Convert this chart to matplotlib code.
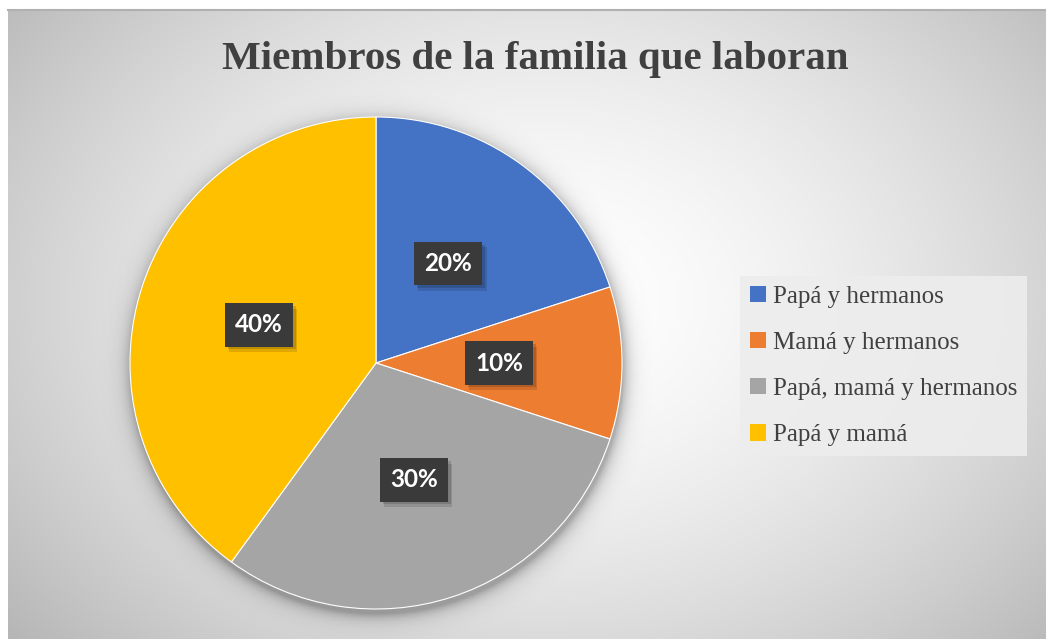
import numpy as np
import matplotlib.pyplot as plt
import matplotlib.patheffects as pe
from matplotlib.patches import Patch

labels = ['Papá y hermanos', 'Mamá y hermanos', 'Papá, mamá y hermanos', 'Papá y mamá']
values = [20, 10, 30, 40]
colors = ['#4472c4', '#ed7d31', '#a5a5a5', '#ffc000']
title = 'Miembros de la familia que laboran'

W, H = 1046, 639
fig = plt.figure(figsize=(W / 100, H / 100), dpi=100)
fig.patch.set_facecolor('white')

# background: radial gradient, white in the middle, grey at the borders
bg = fig.add_axes([8 / W, 0, 1 - 8 / W, 1 - 10 / H])
bg.set_axis_off()
yy, xx = np.mgrid[10:639:4, 8:1046:4]
d = np.hypot((xx - 545) / 560.0, (yy - 300) / 420.0)
v = 1.0 - 0.2 * np.clip(d, 0, 1.3) ** 1.6
bg.imshow(np.dstack([v, v, v]), aspect='auto', extent=[0, 1, 0, 1], interpolation='bilinear')
bg.set_xlim(0, 1)
bg.set_ylim(0, 1)
# thin top border line
fig.add_artist(plt.Line2D([8 / W, 1], [1 - 10 / H, 1 - 10 / H], color='#b0b0b0', lw=1.5))

# pie: centre (376, 363) px, radius 246 px
cx, cy, R = 376, 363, 246
lim = 1.12
side = 2 * lim * R
ax = fig.add_axes([(cx - lim * R) / W, (H - cy - lim * R) / H, side / W, side / H])
ax.set_axis_off()
ax.set_xlim(-lim, lim)
ax.set_ylim(-lim, lim)

# soft shadow under the pie
gy, gx = np.mgrid[-lim:lim:400j, -lim:lim:400j]
r = np.hypot(gx - 0.005, gy + 0.02)
alpha = np.where(r < 1, 0.3, 0.3 * np.exp(-(r - 1) / 0.03))
shadow = np.zeros((400, 400, 4))
shadow[..., 3] = alpha
ax.imshow(shadow, extent=[-lim, lim, -lim, lim], origin='lower', zorder=0)

fs = 17.5
wedges, texts, autotexts = ax.pie(
    values, colors=colors, startangle=90, counterclock=False, radius=1,
    autopct='%1.0f%%', pctdistance=0.5,
    wedgeprops=dict(edgecolor='white', linewidth=0.8),
    textprops=dict(color='white', fontsize=fs, fontweight='bold', family='Lato'))
for w in wedges:
    w.set_zorder(2)
ax.set_xlim(-lim, lim)
ax.set_ylim(-lim, lim)
ax.set_aspect('equal')

for t in autotexts:
    t.set_zorder(6)
    t.set_bbox(dict(boxstyle='square,pad=0.42', facecolor='#3a3a3a', edgecolor='none'))
    t.get_bbox_patch().set_path_effects([
        pe.SimplePatchShadow(offset=(3, -4), shadow_rgbFace='black', alpha=0.12),
        pe.SimplePatchShadow(offset=(2, -2), shadow_rgbFace='black', alpha=0.15),
        pe.Normal()])

fig.text(535 / W, 1 - 60 / H, title, ha='center', va='center', fontsize=29.5,
         fontweight='bold', family='Liberation Serif', color='#404040')

handles = [Patch(facecolor=c, edgecolor='none') for c in colors]
leg = fig.legend(handles, labels, loc='center left', bbox_to_anchor=(740 / W, 1 - 366 / H),
                 prop=dict(family='Liberation Serif', size=18), frameon=True,
                 handlelength=0.62, handleheight=0.62, handletextpad=0.3,
                 labelspacing=0.97, borderpad=0.4, borderaxespad=0, fancybox=False)
leg.get_frame().set_facecolor('#ededed')
leg.get_frame().set_edgecolor('none')
leg.get_frame().set_alpha(0.9)
for t in leg.get_texts():
    t.set_color('#404040')

fig.savefig('out.png', dpi=100)
